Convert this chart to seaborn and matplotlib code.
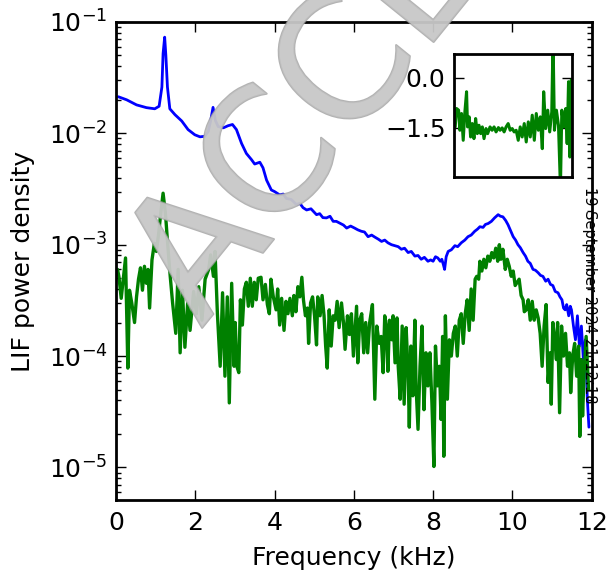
import numpy as np
import pandas as pd
import matplotlib
matplotlib.use("Agg")
import matplotlib.pyplot as plt
import matplotlib.patheffects as pe
import seaborn as sns

# ---------------- data ----------------
blue_freq = [0.06, 0.27, 0.52, 0.77, 0.98, 1.09, 1.16, 1.19, 1.23, 1.26, 1.30, 1.36, 1.49, 1.66,
             1.82, 1.99, 2.12, 2.24, 2.33, 2.39, 2.45, 2.51, 2.58, 2.71, 2.83, 2.94, 3.04, 3.17,
             3.29, 3.42, 3.50, 3.63, 3.71, 3.80, 3.92, 4.00, 4.13, 4.22, 4.30, 4.42, 4.55, 4.64,
             4.72, 4.81, 4.92, 5.06, 5.14, 5.22, 5.31, 5.40, 5.48, 5.56, 5.66, 5.74, 5.82, 5.92,
             6.02, 6.10, 6.19, 6.27, 6.36, 6.45, 6.53, 6.62, 6.70, 6.78, 6.86, 6.95, 7.03, 7.12,
             7.20, 7.28, 7.37, 7.45, 7.54, 7.62, 7.70, 7.78, 7.87, 7.94, 8.00, 8.06, 8.12, 8.18,
             8.22, 8.26, 8.29, 8.33, 8.38, 8.46, 8.55, 8.62, 8.71, 8.80, 8.88, 8.96, 9.05, 9.12,
             9.18, 9.26, 9.32, 9.39, 9.47, 9.55, 9.64, 9.70, 9.76, 9.83, 9.89, 9.95, 10.02, 10.08,
             10.14, 10.20, 10.27, 10.33, 10.39, 10.45, 10.52, 10.58, 10.65, 10.71, 10.77, 10.84,
             10.90, 10.96, 11.02, 11.08, 11.15, 11.20, 11.25, 11.29, 11.33, 11.37, 11.42, 11.46,
             11.49, 11.54, 11.59, 11.64, 11.69, 11.74, 11.79, 11.84, 11.89, 11.93]
blue_psd = [2.13e-2, 2.0e-2, 1.8e-2, 1.7e-2, 1.66e-2, 1.75e-2, 2.6e-2, 5.2e-2, 7.3e-2, 5.0e-2, 2.6e-2,
            1.66e-2, 1.47e-2, 1.29e-2, 1.08e-2, 9.7e-3, 9.3e-3, 9.4e-3, 1.04e-2, 1.3e-2, 1.71e-2,
            1.3e-2, 1.15e-2, 1.12e-2, 1.17e-2, 1.2e-2, 1.08e-2, 8.1e-3, 6.6e-3, 5.8e-3, 5.3e-3,
            5.5e-3, 4.9e-3, 3.8e-3, 3.1e-3, 3.0e-3, 2.8e-3, 2.85e-3, 2.6e-3, 2.55e-3, 2.3e-3,
            2.35e-3, 2.15e-3, 2.05e-3, 2.1e-3, 1.86e-3, 1.9e-3, 1.75e-3, 1.74e-3, 1.8e-3, 1.62e-3,
            1.62e-3, 1.55e-3, 1.5e-3, 1.41e-3, 1.47e-3, 1.41e-3, 1.36e-3, 1.32e-3, 1.3e-3, 1.18e-3,
            1.22e-3, 1.17e-3, 1.12e-3, 1.07e-3, 1.1e-3, 1.04e-3, 1.0e-3, 9.8e-4, 9.6e-4, 9.1e-4,
            9.3e-4, 8.5e-4, 8.7e-4, 7.9e-4, 8.0e-4, 7.4e-4, 7.7e-4, 7.1e-4, 7.3e-4, 7.1e-4, 7.8e-4,
            7.6e-4, 7.1e-4, 7.4e-4, 6.6e-4, 6.0e-4, 7.8e-4, 8.7e-4, 9.0e-4, 9.8e-4, 9.6e-4, 1.04e-3,
            1.1e-3, 1.18e-3, 1.22e-3, 1.32e-3, 1.38e-3, 1.45e-3, 1.43e-3, 1.52e-3, 1.55e-3, 1.62e-3,
            1.74e-3, 1.86e-3, 1.80e-3, 1.78e-3, 1.65e-3, 1.51e-3, 1.35e-3, 1.18e-3, 1.1e-3, 1.0e-3,
            9.4e-4, 8.5e-4, 7.9e-4, 7.1e-4, 6.8e-4, 6.0e-4, 5.9e-4, 5.6e-4, 5.3e-4, 5.2e-4, 4.7e-4,
            4.9e-4, 4.4e-4, 4.3e-4, 3.8e-4, 3.7e-4, 3.4e-4, 3.2e-4, 2.7e-4, 2.6e-4, 2.9e-4, 2.3e-4,
            2.8e-4, 2.6e-4, 1.86e-4, 1.4e-4, 2.3e-4, 1.23e-4, 1.86e-4, 9.3e-5, 1.4e-4, 4.1e-5, 2.3e-5]

green_freq = [0.04, 0.075, 0.134, 0.243, 0.301, 0.343, 0.40, 0.47, 0.52, 0.57, 0.62, 0.67, 0.72,
              0.77, 0.81, 0.85, 0.91, 0.97, 1.02, 1.08, 1.13, 1.19, 1.25, 1.31, 1.37, 1.43, 1.51,
              1.57, 1.62, 1.68, 1.74, 1.81, 1.87, 1.96, 2.03, 2.09, 2.17, 2.25, 2.34, 2.39, 2.46,
              2.50, 2.56, 2.63, 2.69, 2.75, 2.81, 2.86, 2.92, 2.98, 3.01, 3.05, 3.10, 3.14, 3.19,
              3.24, 3.29, 3.34, 3.39, 3.44, 3.49, 3.54, 3.59, 3.66, 3.71, 3.77, 3.82, 3.87, 3.91,
              3.97, 4.04, 4.08, 4.13, 4.18, 4.24, 4.29, 4.34, 4.39, 4.45, 4.49, 4.54, 4.59, 4.64,
              4.69, 4.73, 4.78, 4.83, 4.86, 4.91, 4.96, 5.01, 5.06, 5.09, 5.15, 5.20, 5.25, 5.29,
              5.33, 5.38, 5.43, 5.48, 5.53, 5.58, 5.63, 5.69, 5.74, 5.78, 5.84, 5.89, 5.94, 5.99,
              6.04, 6.07, 6.10, 6.15, 6.20, 6.25, 6.30, 6.35, 6.40, 6.47, 6.53, 6.58, 6.64, 6.69,
              6.74, 6.78, 6.82, 6.86, 6.90, 6.96, 6.99, 7.04, 7.09, 7.12, 7.17, 7.22, 7.27, 7.32,
              7.37, 7.40, 7.44, 7.49, 7.54, 7.57, 7.62, 7.67, 7.72, 7.77, 7.82, 7.87, 7.92, 7.97,
              8.02, 8.06, 8.11, 8.16, 8.20, 8.24, 8.27, 8.31, 8.36, 8.41, 8.46, 8.51, 8.56, 8.61,
              8.66, 8.71, 8.76, 8.81, 8.86, 8.91, 8.96, 9.01, 9.06, 9.10, 9.15, 9.18, 9.23, 9.28,
              9.33, 9.38, 9.43, 9.48, 9.53, 9.58, 9.63, 9.67, 9.71, 9.76, 9.82, 9.87, 9.92, 9.97,
              10.02, 10.07, 10.12, 10.17, 10.22, 10.27, 10.30, 10.35, 10.40, 10.45, 10.50, 10.55,
              10.60, 10.65, 10.70, 10.75, 10.80, 10.85, 10.90, 10.95, 10.98, 11.02, 11.07, 11.11,
              11.14, 11.19, 11.24, 11.29, 11.34, 11.39, 11.44, 11.47, 11.52, 11.57, 11.62, 11.67,
              11.70, 11.74, 11.77, 11.81, 11.86, 11.92]
green_psd = [6.0e-4, 5.2e-4, 3.3e-4, 7.6e-4, 7.8e-5, 3.9e-4, 3.0e-4, 2.0e-4, 3.4e-4, 4.9e-4, 6.2e-4,
             3.9e-4, 6.4e-4, 4.5e-4, 6.0e-4, 2.7e-4, 7.3e-4, 1.03e-3, 8.7e-4, 1.27e-3, 1.9e-3, 2.9e-3,
             1.9e-3, 9.7e-4, 5.2e-4, 3.0e-4, 1.6e-4, 6.0e-4, 1.07e-4, 3.9e-4, 1.2e-4, 3.0e-4, 1.7e-4,
             3.8e-4, 2.4e-4, 4.2e-4, 2.1e-4, 4.9e-4, 6.0e-4, 8.1e-4, 5.2e-4, 8.7e-4, 2.4e-4, 8.1e-5,
             3.7e-4, 6.6e-5, 3.4e-4, 3.8e-5, 4.5e-4, 8.1e-5, 2.0e-4, 8.1e-5, 7.1e-5, 3.2e-4, 1.9e-4,
             4.0e-4, 4.6e-4, 2.8e-4, 5.0e-4, 2.8e-4, 4.6e-4, 3.2e-4, 5.0e-4, 5.1e-4, 3.2e-4, 4.4e-4,
             2.9e-4, 2.4e-4, 4.9e-4, 3.4e-4, 2.6e-4, 4.0e-4, 1.9e-4, 3.3e-4, 1.7e-4, 3.1e-4, 2.4e-4,
             3.3e-4, 2.3e-4, 3.5e-4, 2.5e-4, 4.2e-4, 3.4e-4, 5.1e-4, 3.2e-4, 2.3e-4, 2.7e-4, 1.3e-4,
             3.0e-4, 3.4e-4, 2.3e-4, 1.26e-4, 3.4e-4, 2.3e-4, 3.5e-4, 2.3e-4, 1.23e-4, 7.8e-5, 2.6e-4,
             1.23e-4, 2.3e-4, 2.1e-4, 3.1e-4, 1.8e-4, 3.0e-4, 2.0e-4, 1.15e-4, 2.3e-4, 1.56e-4, 2.4e-4,
             1.0e-4, 1.9e-4, 2.8e-4, 8.7e-5, 2.1e-4, 2.4e-4, 1.07e-4, 2.0e-4, 1.07e-4, 2.0e-4, 2.9e-4,
             4.1e-5, 1.86e-4, 1.3e-4, 1.5e-4, 7.1e-5, 2.3e-4, 1.86e-4, 7.3e-5, 2.1e-4, 1.4e-4, 2.3e-4,
             8.7e-5, 2.2e-4, 8.1e-5, 4.1e-5, 1.86e-4, 3.7e-5, 1.8e-4, 7.1e-5, 2.3e-5, 1.23e-4, 4.4e-5,
             2.1e-4, 5.4e-5, 2.2e-5, 8.1e-5, 1.86e-4, 3.3e-5, 1.07e-4, 5.4e-5, 1.07e-4, 3.8e-5, 1.02e-5,
             1.23e-4, 5.4e-5, 8.1e-5, 2.7e-5, 1.5e-4, 1.26e-5, 2.3e-4, 4.1e-5, 1.4e-4, 1.0e-4, 1.6e-4,
             1.86e-4, 1.0e-4, 2.1e-4, 2.4e-4, 1.3e-4, 2.4e-4, 3.2e-4, 1.7e-4, 4.0e-4, 2.1e-4, 4.9e-4,
             5.2e-4, 4.9e-4, 7.1e-4, 5.8e-4, 7.4e-4, 6.2e-4, 7.9e-4, 7.1e-4, 8.5e-4, 7.6e-4, 9.3e-4,
             7.1e-4, 1.0e-3, 7.4e-4, 9.1e-4, 6.0e-4, 7.4e-4, 6.4e-4, 5.2e-4, 5.8e-4, 4.3e-4, 4.6e-4,
             4.9e-4, 3.5e-4, 3.2e-4, 2.5e-4, 2.6e-4, 3.2e-4, 2.1e-4, 3.1e-4, 2.1e-4, 2.6e-4, 2.2e-4,
             1.6e-4, 8.1e-5, 1.86e-4, 2.9e-4, 5.8e-5, 1.07e-4, 3.7e-5, 2.0e-4, 1.4e-4, 9.3e-5, 2.0e-4,
             3.1e-5, 1.86e-4, 1.0e-4, 1.6e-4, 8.1e-5, 1.07e-4, 4.7e-5, 1.0e-4, 1.3e-4, 6.6e-5, 1.23e-4,
             1.9e-5, 9.3e-5, 2.9e-5, 7.1e-5, 1.5e-4, 5.0e-5]

inset_freq = [0.14, 0.27, 0.48, 0.61, 0.78, 0.95, 1.12, 1.29, 1.39, 1.56, 1.70, 1.87, 2.04, 2.21,
              2.38, 2.55, 2.72, 2.89, 3.06, 3.26, 3.43, 3.67, 3.88, 4.08, 4.28, 4.52, 4.69, 4.90,
              5.10, 5.30, 5.51, 5.71, 5.92, 6.12, 6.32, 6.53, 6.73, 6.93, 7.14, 7.34, 7.55, 7.75,
              7.95, 8.16, 8.36, 8.57, 8.77, 8.97, 9.11, 9.31, 9.52, 9.72, 9.93, 10.06, 10.20, 10.40,
              10.61, 10.81, 10.95, 11.15, 11.35, 11.49, 11.63, 11.76, 11.90]
inset_val = [-1.47, -0.92, -0.97, -1.57, -1.07, -1.87, -1.02, -0.42, -1.47, -1.17, -1.77, -1.37,
             -1.82, -1.22, -1.67, -1.42, -1.67, -1.47, -1.82, -1.52, -1.67, -1.47, -1.57, -1.47,
             -1.62, -1.49, -1.57, -1.50, -1.62, -1.47, -1.37, -1.57, -1.52, -1.62, -1.57, -1.87,
             -1.47, -1.77, -1.37, -1.92, -1.32, -1.77, -1.12, -1.87, -1.07, -1.57, -1.17, -2.12,
             -0.42, -1.52, -0.97, -1.62, -1.02, 1.2, -1.57, -0.97, -1.42, -3.3, -0.97, -1.47,
             -0.92, -1.97, -0.12, -2.37, -0.07]

x_ticks = [0, 2, 4, 6, 8, 10, 12]
inset_yticks = [0.0, -1.5]
x_label = "Frequency (kHz)"
y_label = "LIF power density"
stamp_text = "19 September 2024 21:12:18"
watermark = "ACCEPTED"

blue_df = pd.DataFrame({"freq": blue_freq, "psd": blue_psd})
green_df = pd.DataFrame({"freq": green_freq, "psd": green_psd})
inset_df = pd.DataFrame({"freq": inset_freq, "val": inset_val})

# ---------------- style ----------------
sns.set_style("ticks")
plt.rcParams["font.family"] = ["DejaVu Sans"]
plt.rcParams.update({
    "xtick.direction": "in", "ytick.direction": "in",
    "xtick.top": True, "ytick.right": True,
    "xtick.major.size": 7, "ytick.major.size": 7,
    "xtick.minor.size": 3.5, "ytick.minor.size": 3.5,
    "xtick.major.width": 1.0, "ytick.major.width": 1.0,
    "xtick.minor.width": 1.0, "ytick.minor.width": 1.0,
    "axes.linewidth": 2.0,
    "xtick.color": "black", "ytick.color": "black",
    "xtick.labelcolor": "black", "ytick.labelcolor": "black",
    "axes.labelcolor": "black", "text.color": "black",
    "axes.edgecolor": "black",
    "font.size": 18,
})

fig = plt.figure(figsize=(6.1, 5.77), dpi=100)
ax = fig.add_axes([0.190, 0.1334, 0.780, 0.8286])
ax.set_yscale("log")

sns.lineplot(data=blue_df, x="freq", y="psd", ax=ax, color="#0000ff", linewidth=2.0,
             estimator=None, sort=False)
sns.lineplot(data=green_df, x="freq", y="psd", ax=ax, color="#008000", linewidth=2.4,
             estimator=None, sort=False)

ax.set_xlim(0, 12)
ax.set_ylim(5.1e-6, 1e-1)
ax.set_xticks(x_ticks)
ax.set_xticklabels([str(t) for t in x_ticks])
ax.tick_params(axis="both", which="both", labelsize=18, top=True, right=True,
               colors="black", labelcolor="black")
ax.tick_params(axis="x", pad=8)
ax.tick_params(axis="y", pad=6)
ax.set_xlabel(x_label, fontsize=18, labelpad=8, color="black")
ax.set_ylabel(y_label, fontsize=18, labelpad=10, color="black")
for s in ax.spines.values():
    s.set_visible(True)
    s.set_linewidth(2.0)
    s.set_color("black")

# inset
axin = fig.add_axes([0.744, 0.693, 0.194, 0.213])
sns.lineplot(data=inset_df, x="freq", y="val", ax=axin, color="#008000", linewidth=2.2,
             estimator=None, sort=False)
axin.set_xlim(0, 12)
axin.set_ylim(-2.97, 0.70)
axin.set_xticks([])
axin.set_yticks(inset_yticks)
axin.set_yticklabels(["0.0", "\u22121.5"])
axin.tick_params(axis="y", direction="in", right=True, length=7, labelsize=18, pad=6,
                 colors="black", labelcolor="black")
axin.set_xlabel("")
axin.set_ylabel("")
for s in axin.spines.values():
    s.set_visible(True)
    s.set_linewidth(2.0)
    s.set_color("black")

# watermark
fig.text(0.330, 0.430, watermark, rotation=51, rotation_mode="anchor", ha="left",
         va="baseline", fontsize=123, color="#c8c8c8", alpha=0.75, zorder=20,
         path_effects=[pe.withStroke(linewidth=1.5, foreground="#a0a0a0", alpha=0.8)])

fig.text(0.967, 0.489, stamp_text, rotation=270, fontsize=10.5, ha="center", va="center",
         color="black", zorder=21)

fig.savefig("out.png", dpi=100)
